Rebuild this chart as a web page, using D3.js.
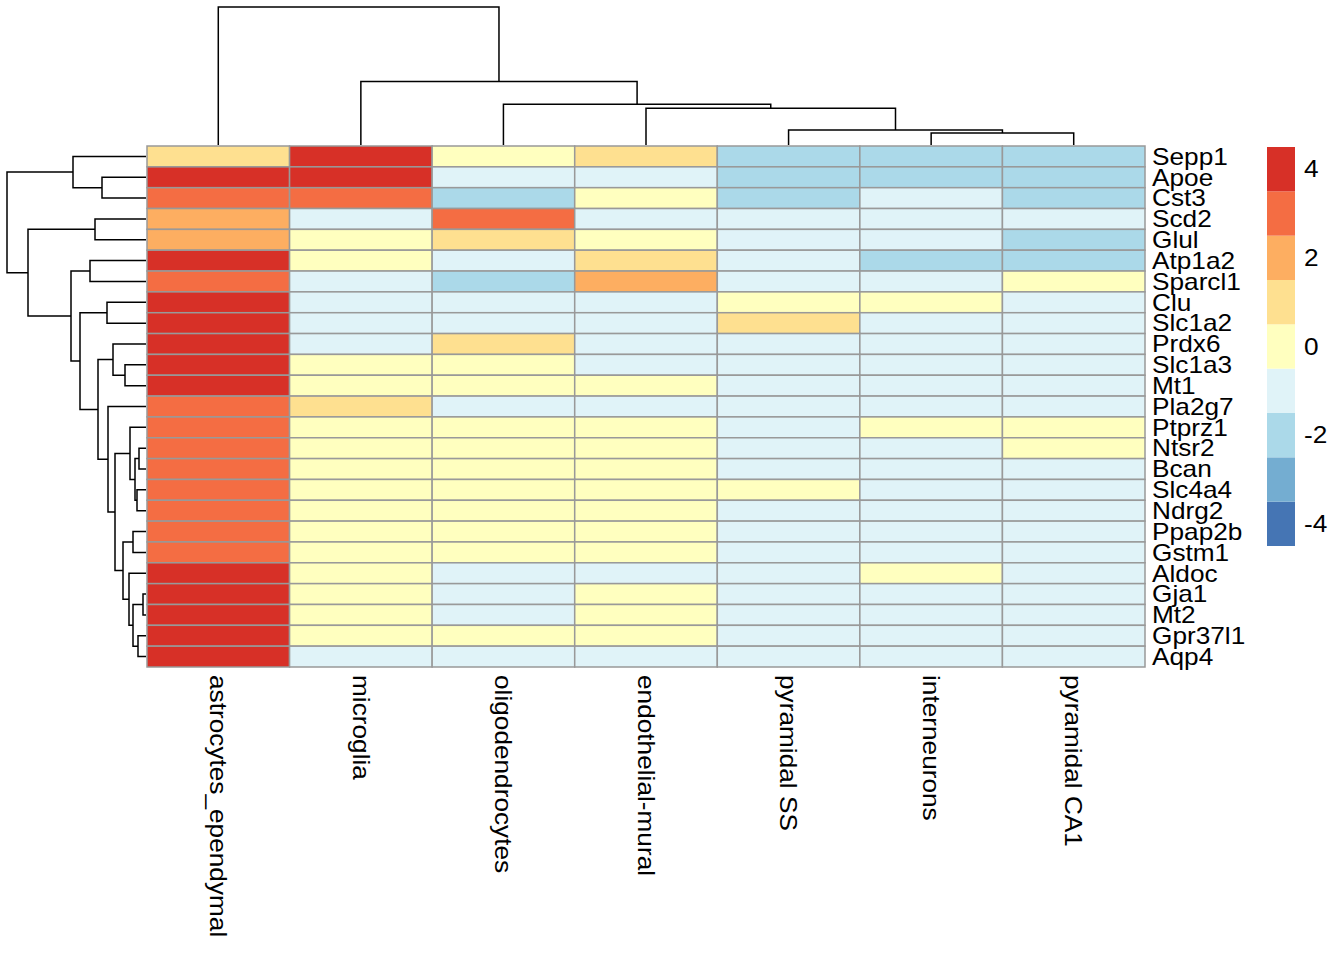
<!DOCTYPE html>
<html><head><meta charset="utf-8">
<script src="https://cdn.jsdelivr.net/npm/d3@7"></script>
<style>body{margin:0;background:#fff}text{font-family:"Liberation Sans",Arial,sans-serif}</style>
</head><body><svg id="c" width="1344" height="960"></svg>
<script>
const genes=["Sepp1","Apoe","Cst3","Scd2","Glul","Atp1a2","Sparcl1","Clu","Slc1a2","Prdx6","Slc1a3","Mt1","Pla2g7","Ptprz1","Ntsr2","Bcan","Slc4a4","Ndrg2","Ppap2b","Gstm1","Aldoc","Gja1","Mt2","Gpr37l1","Aqp4"];
const cells=["astrocytes_ependymal","microglia","oligodendrocytes","endothelial-mural","pyramidal SS","interneurons","pyramidal CA1"];
const values=[
[1,4,0,1,-2,-2,-2],[4,4,-1,-1,-2,-2,-2],[3,3,-2,0,-2,-1,-2],[2,-1,3,-1,-1,-1,-1],[2,0,1,0,-1,-1,-2],
[4,0,-1,1,-1,-2,-2],[3,-1,-2,2,-1,-1,0],[4,-1,-1,-1,0,0,-1],[4,-1,-1,-1,1,-1,-1],[4,-1,1,-1,-1,-1,-1],
[4,0,0,-1,-1,-1,-1],[4,0,0,0,-1,-1,-1],[3,1,-1,-1,-1,-1,-1],[3,0,0,0,-1,0,0],[3,0,0,0,-1,-1,0],
[3,0,0,0,-1,-1,-1],[3,0,0,0,0,-1,-1],[3,0,0,0,-1,-1,-1],[3,0,0,0,-1,-1,-1],[3,0,0,0,-1,-1,-1],
[4,0,-1,-1,-1,0,-1],[4,0,-1,0,-1,-1,-1],[4,0,-1,0,-1,-1,-1],[4,0,0,0,-1,-1,-1],[4,-1,-1,-1,-1,-1,-1]];
const legendTicks=[4,2,0,-2,-4];
const palette=["#4575B4","#74ADD1","#ABD9E9","#E0F3F8","#FFFFBF","#FEE090","#FDAE61","#F46D43","#D73027"];
const levels=[-4,-3,-2,-1,0,1,2,3,4];
// trees: [height,left,right]
const rowTree=[139,[73,0,[44,1,2]],[118,[51,3,4],[75,[56,5,6],[66,[39,7,8],[48,[33,9,[21,10,11]],[38,12,[31,[16,13,[11,[7,14,15],[9,16,17]]],[23,[13,18,19],[17,20,[13,[3,21,22],[8,23,24]]]]]]]]]]];
const colTree=[139,0,[64,1,[41,2,[37,3,[15,4,[12,5,6]]]]]];

const svg=d3.select("#c");
const L=147,R=1145,T=146,B=667;
const x=d3.scaleBand().domain(d3.range(cells.length)).range([L,R]);
const y=d3.scaleBand().domain(d3.range(genes.length)).range([T,B]);
const color=d3.scaleOrdinal().domain(levels).range(palette);
const g=svg.append("g");
values.forEach((row,i)=>row.forEach((v,j)=>{
  g.append("rect").attr("x",x(j)).attr("y",y(i)).attr("width",x.bandwidth()).attr("height",y.bandwidth())
   .attr("fill",color(v)).attr("stroke","#999").attr("stroke-width",1.5);
}));
const hr=d3.scaleLinear().domain([0,139]).range([T-1,7]);
const hc=d3.scaleLinear().domain([0,139]).range([L-1,7]);
function draw(node,pos,hs,horiz){
  if(typeof node==="number") return {p:pos(node),h:0};
  const a=draw(node[1],pos,hs,horiz), b=draw(node[2],pos,hs,horiz), h=node[0];
  const path=horiz
    ? `M${a.p},${hs(a.h)}V${hs(h)}H${b.p}V${hs(b.h)}`
    : `M${hs(a.h)},${a.p}H${hs(h)}V${b.p}H${hs(b.h)}`;
  svg.append("path").attr("d",path).attr("fill","none").attr("stroke","#000").attr("stroke-width",1.5);
  return {p:(a.p+b.p)/2,h};
}
draw(colTree,i=>x(i)+x.bandwidth()/2,hr,true);
draw(rowTree,i=>y(i)+y.bandwidth()/2,hc,false);
const sx=1.14;
genes.forEach((gn,i)=>svg.append("text").attr("transform",`translate(1152,${y(i)+y.bandwidth()/2}) scale(${sx},1)`)
  .attr("dy","0.36em").attr("font-size",23).text(gn));
cells.forEach((c,j)=>svg.append("text").attr("transform",`translate(${x(j)+x.bandwidth()/2},675) rotate(90) scale(${sx},1)`)
  .attr("dy","0.36em").attr("font-size",23).text(c));
const ly=d3.scaleLinear().domain([-4.5,4.5]).range([546,147]);
levels.forEach(v=>svg.append("rect").attr("x",1267).attr("y",ly(v+0.5)).attr("width",28)
  .attr("height",ly(v-0.5)-ly(v+0.5)).attr("fill",color(v)));
legendTicks.forEach(t=>svg.append("text").attr("transform",`translate(1304,${ly(t)}) scale(${sx},1)`).attr("dy","0.36em").attr("font-size",23).text(t));
</script></body></html>
